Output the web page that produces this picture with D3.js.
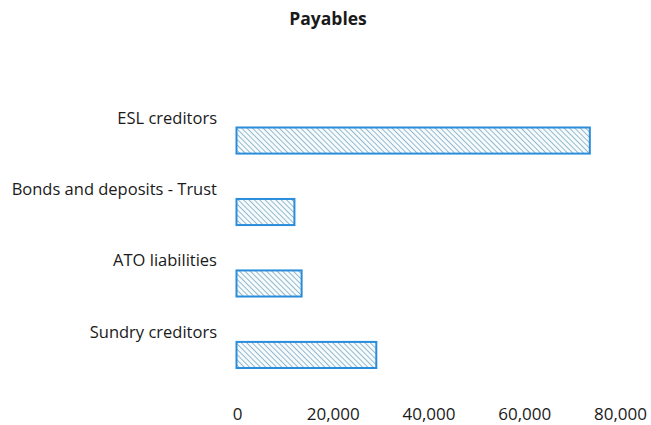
<!DOCTYPE html>
<html>
<head>
<meta charset="utf-8">
<script src="https://cdn.jsdelivr.net/npm/d3@7"></script>
<style>
  html, body { margin: 0; padding: 0; background: #fff; }
  svg { display: block; }
  text { font-family: "Open Sans", sans-serif; fill: #1a1a1a; }
</style>
</head>
<body>
<svg id="chart" width="651" height="425"></svg>
<script>
const title = "Payables";
const categories = ["ESL creditors", "Bonds and deposits - Trust", "ATO liabilities", "Sundry creditors"];
const values = [73800, 12100, 13600, 29200];
const tickValues = [0, 20000, 40000, 60000, 80000];

const svg = d3.select("#chart");

const x = d3.scaleLinear().domain([0, 80000]).range([237, 620]);
const y = d3.scaleBand().domain(categories).range([127.5, 368]).paddingInner(0.635).paddingOuter(0);

// diagonal hatch fill for the bars
const defs = svg.append("defs");
const pat = defs.append("pattern")
  .attr("id", "hatch")
  .attr("patternUnits", "userSpaceOnUse")
  .attr("width", 3.8).attr("height", 3.8)
  .attr("patternTransform", "rotate(-45)");
pat.append("rect").attr("width", 3.8).attr("height", 3.8).attr("fill", "#f6fbfd");
pat.append("line")
  .attr("x1", 0.5).attr("y1", 0).attr("x2", 0.5).attr("y2", 3.8)
  .attr("stroke", "#8cb2c8").attr("stroke-width", 0.9);

svg.append("text")
  .attr("x", 328).attr("y", 25)
  .attr("text-anchor", "middle")
  .attr("font-size", 17.5)
  .attr("font-weight", "bold")
  .text(title);

const data = categories.map((c, i) => ({ c, v: values[i] }));

svg.append("g").selectAll("rect")
  .data(data)
  .join("rect")
  .attr("x", x(0) - 0.5)
  .attr("y", d => y(d.c))
  .attr("width", d => x(d.v) - x(0))
  .attr("height", y.bandwidth())
  .attr("fill", "url(#hatch)")
  .attr("stroke", "#2a8ddb")
  .attr("stroke-width", 2);

// category labels sit above each bar, right-aligned
svg.append("g").selectAll("text")
  .data(data)
  .join("text")
  .attr("x", 217)
  .attr("y", d => y(d.c) - 4)
  .attr("text-anchor", "end")
  .attr("font-size", 16.5)
  .text(d => d.c);

const axis = d3.axisBottom(x)
  .tickValues(tickValues)
  .tickSize(0)
  .tickPadding(0)
  .tickFormat(d3.format(","));

const gx = svg.append("g")
  .attr("transform", "translate(0,420)")
  .call(axis);
gx.select(".domain").remove();
gx.selectAll("text")
  .attr("font-size", 17)
  .attr("font-family", "'Open Sans', sans-serif")
  .attr("fill", "#1a1a1a")
  .attr("y", 0)
  .attr("dy", 0);
</script>
</body>
</html>
